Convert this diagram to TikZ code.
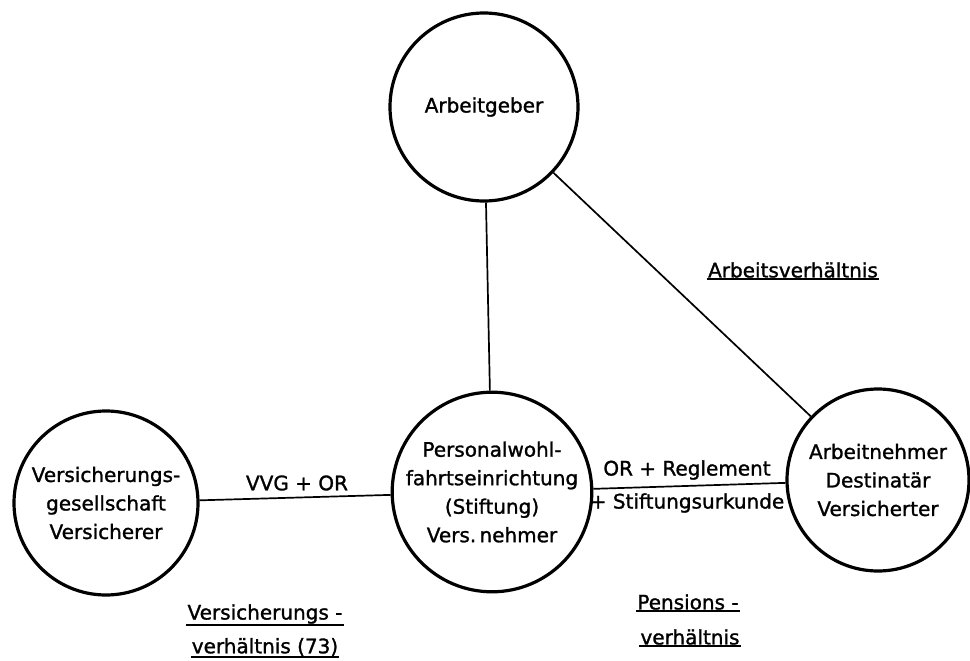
\documentclass[tikz,border=0pt]{standalone}
\usepackage{fontspec}
\setmainfont{DejaVu Sans}
\newfontfamily\heavy{DejaVu Sans}[FakeBold=1.3]
\begin{document}
\begin{tikzpicture}[x=1pt,y=-1pt,
  party/.style={circle,draw=black,line width=3.2pt,inner sep=0pt,align=center,font=\heavy\fontsize{20}{28.5}\selectfont},
  conn/.style={draw=black,line width=1.7pt},
  lbl/.style={inner sep=1pt,font=\heavy\fontsize{20}{28}\selectfont},
  ulbl/.style={inner sep=1pt,font=\heavy\fontsize{20}{28}\selectfont},
  uline/.style={draw=black,line width=2.4pt}]
\useasboundingbox (0,0) rectangle (970,661);
\node[party,minimum size=188pt] (A) at (484,107) {Arbeitgeber};
\node[party,minimum size=184pt] (V) at (106,503) {Versicherungs-\\gesellschaft\\Versicherer};
\node[party,minimum size=190pt] (P) at (492,492) {Personalwohl-\\fahrtseinrichtung\\(Stiftung)\\Vers.\,nehmer};
\node[party,minimum size=182pt] (N) at (878,480) {Arbeitnehmer\\Destinatär\\Versicherter};
\draw[conn] (A) -- (P);
\draw[conn] (A) -- (N);
\draw[conn] (V) -- (P);
\draw[conn] (P) -- (N);
\node[lbl] (vvg) at (297,483) {VVG + OR};
\node[lbl] (orr) at (687,470) {OR + Reglement};
\node[lbl] (stu) at (687,503) {+ Stiftungsurkunde};
\node[ulbl] (av) at (793,270) {Arbeitsverhältnis};
\node[ulbl] (vv1) at (265,614) {Versicherungs -};
\node[ulbl] (vv2) at (265,647) {verhältnis (73)};
\node[ulbl] (pv1) at (688,602) {Pensions -};
\node[ulbl] (pv2) at (690,637) {verhältnis};
\foreach \n in {av,vv1,vv2,pv1,pv2}{
  \draw[uline] (\n.south west) -- (\n.south east);
}
\end{tikzpicture}
\end{document}
